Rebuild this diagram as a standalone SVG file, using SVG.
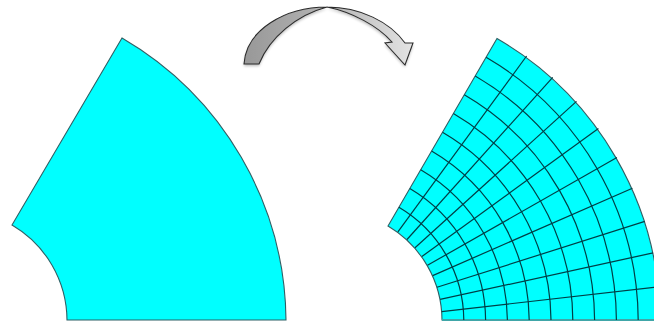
<svg xmlns="http://www.w3.org/2000/svg" width="654" height="324" viewBox="0 0 654 324">
<defs>
<linearGradient id="arrowFill" x1="244" y1="0" x2="413" y2="0" gradientUnits="userSpaceOnUse">
<stop offset="0" stop-color="#989898"/><stop offset="0.5" stop-color="#b4b4b4"/><stop offset="1" stop-color="#e4e4e4"/>
</linearGradient>
<filter id="soft" x="-5%" y="-5%" width="110%" height="110%"><feGaussianBlur stdDeviation="0.55"/></filter>
<filter id="shadow" x="-10%" y="-10%" width="120%" height="130%"><feGaussianBlur stdDeviation="1.6"/></filter>
</defs>
<style>
.sector{fill:#00ffff;stroke:#2f5f64;stroke-width:1.1}
.base{fill:none;stroke:#3fa6a8;stroke-width:1.8}
.mesh{fill:none;stroke:#063f46;stroke-width:1.2}
.arrow{fill:url(#arrowFill);stroke:#2c2c2c;stroke-width:1.1;stroke-linejoin:miter}
</style>
<rect width="654" height="324" fill="#ffffff"/>
<g id="source-sector" filter="url(#soft)">
<path class="sector" d="M67,320 A111,111 0 0 0 12,225 L122,38 A330,330 0 0 1 286,320 Z"/>
</g>
<g id="curved-arrow">
<path d="M244,66 C246,32 285,9 327,9 C360,9 390,24 405,45 L413,45 L405,67 L385,45 L392,44 C378,28 352,14 327,9 C297,17 270,39 259,66 Z" fill="#000" opacity="0.28" filter="url(#shadow)"/>
<path class="arrow" filter="url(#soft)" d="M244,64 C246,30 285,7 327,7 C360,7 390,22 405,43 L413,43 L405,65 L385,43 L392,42 C378,26 352,12 327,7 C297,15 270,37 259,64 Z"/>
</g>
<g id="meshed-sector" filter="url(#soft)">
<path class="sector" d="M442,320 A110,110 0 0 0 388,226 L497,38.500 A328,328 0 0 1 660,320 Z"/>
<path class="base" d="M442,320 H654"/>
<g id="mesh-arcs">
<path class="mesh" d="M398.900,207.300 A131.800,131.800 0 0 1 463.800,320"/>
<path class="mesh" d="M409.800,188.500 A153.600,153.600 0 0 1 485.600,320"/>
<path class="mesh" d="M420.700,169.800 A175.400,175.400 0 0 1 507.400,320"/>
<path class="mesh" d="M431.600,151 A197.200,197.200 0 0 1 529.200,320"/>
<path class="mesh" d="M442.500,132.300 A219,219 0 0 1 551,320"/>
<path class="mesh" d="M453.400,113.500 A240.800,240.800 0 0 1 572.800,320"/>
<path class="mesh" d="M464.300,94.800 A262.600,262.600 0 0 1 594.600,320"/>
<path class="mesh" d="M475.200,76 A284.400,284.400 0 0 1 616.400,320"/>
<path class="mesh" d="M486.100,57.300 A306.200,306.200 0 0 1 638.200,320"/>
</g>
<g id="mesh-spokes">
<path class="mesh" d="M441.700,311.600 L658.300,286.800"/>
<path class="mesh" d="M440.100,299.400 L653.100,252.900"/>
<path class="mesh" d="M437,287.300 L644.800,221.400"/>
<path class="mesh" d="M432.700,275.600 L632.400,188.200"/>
<path class="mesh" d="M427.500,265.300 L616.900,157.500"/>
<path class="mesh" d="M421.900,256.600 L598.400,128.600"/>
<path class="mesh" d="M415,247.800 L576.500,101.400"/>
<path class="mesh" d="M407,239.500 L552.700,77.400"/>
<path class="mesh" d="M397.900,231.900 L526.600,56"/>
</g>
</g>
</svg>
